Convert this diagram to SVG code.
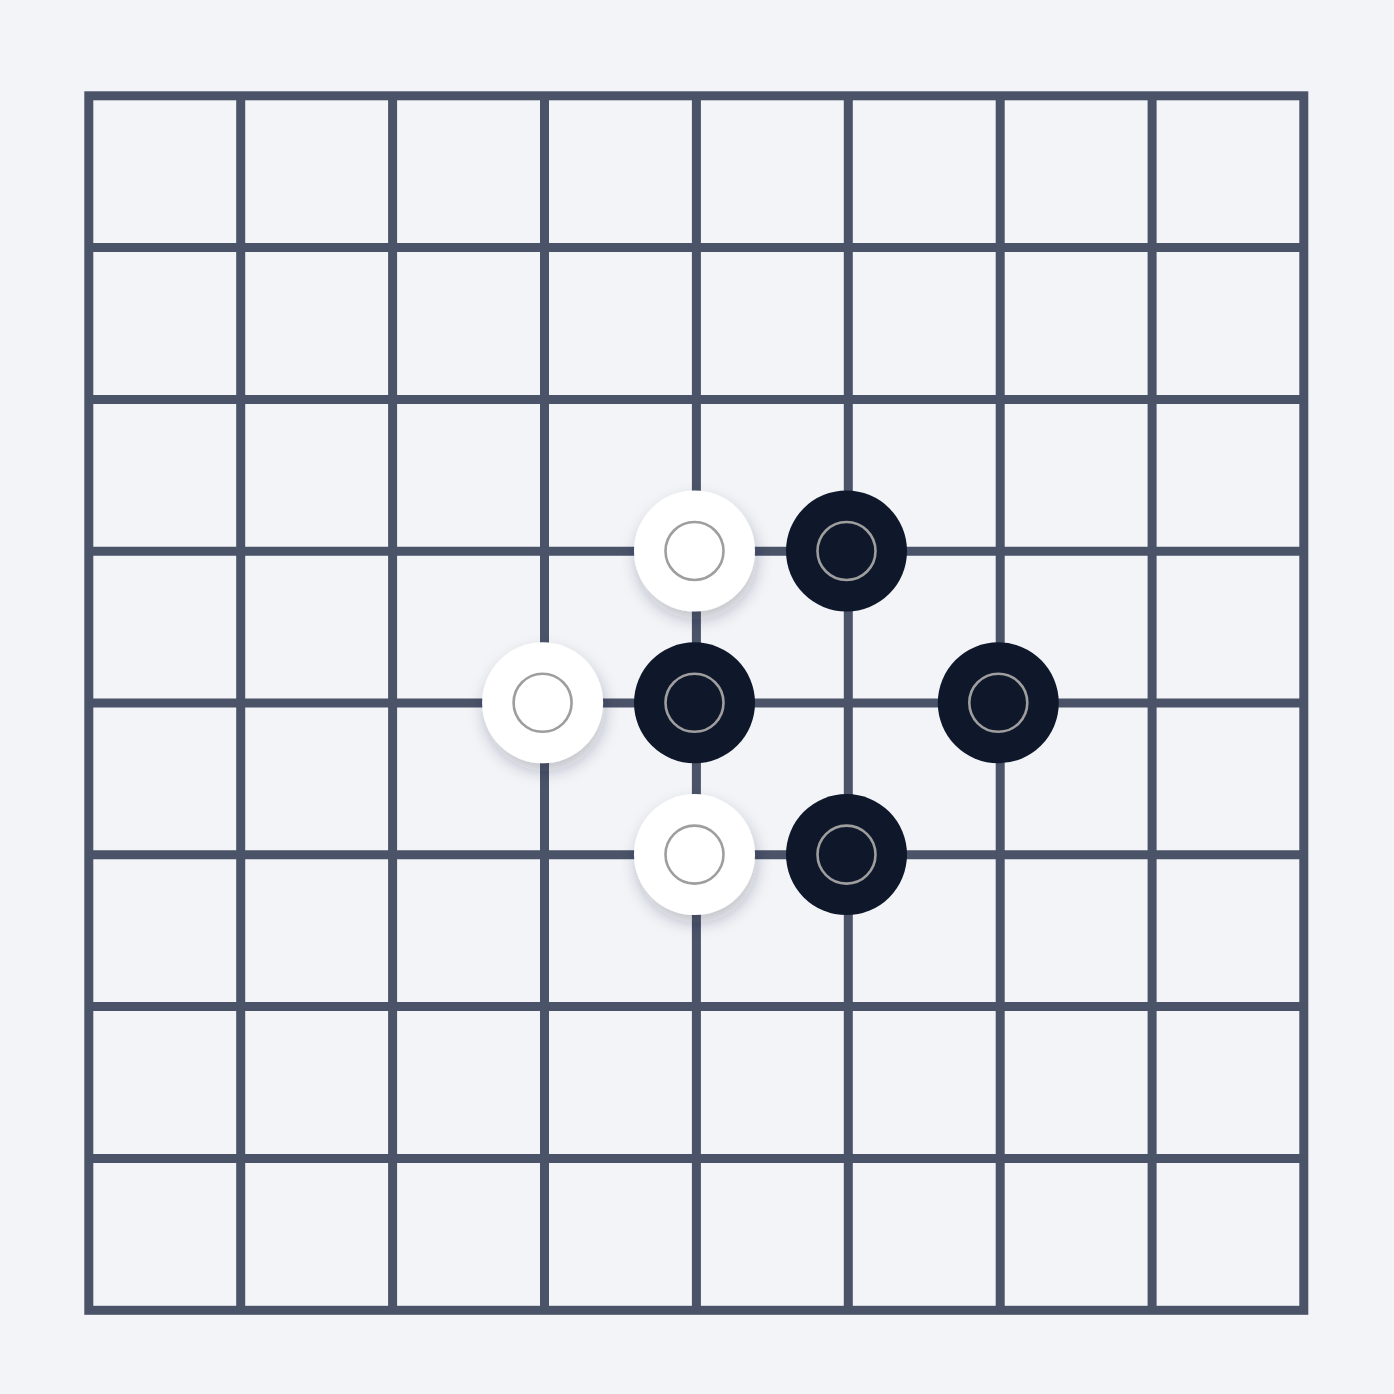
<svg xmlns="http://www.w3.org/2000/svg" width="1394" height="1394" viewBox="0 0 1394 1394">
  <defs>
    <filter id="shadow" x="-50%" y="-50%" width="200%" height="200%">
      <feDropShadow dx="2" dy="8" stdDeviation="8" flood-color="#1e293b" flood-opacity="0.24"/>
    </filter>
  </defs>
  <style>
    .grid { stroke: #4a5368; stroke-width: 9; fill: none; }
    .white { fill: #ffffff; filter: url(#shadow); }
    .black { fill: #0f172a; }
    .ring { fill: none; stroke: #9e9e9e; stroke-width: 2.6; }
  </style>
  <rect x="0" y="0" width="1394" height="1394" fill="#f2f4f7"/>
  <g id="board" class="grid">
    <rect x="88.8" y="95.8" width="1215" height="1214.5"/>
    <path d="M240.7 95.8V1310.3 M392.6 95.8V1310.3 M544.5 95.8V1310.3 M696.4 95.8V1310.3 M848.3 95.8V1310.3 M1000.2 95.8V1310.3 M1152.1 95.8V1310.3"/>
    <path d="M88.8 247.6H1303.8 M88.8 399.4H1303.8 M88.8 551.2H1303.8 M88.8 703H1303.8 M88.8 854.8H1303.8 M88.8 1006.6H1303.8 M88.8 1158.4H1303.8"/>
  </g>
  <g id="stone-w1"><circle class="white" cx="694.5" cy="551" r="60.5"/><circle class="ring" cx="694.5" cy="551" r="29"/></g>
  <g id="stone-b1"><circle class="black" cx="846.5" cy="551" r="60.5"/><circle class="ring" cx="846.5" cy="551" r="29"/></g>
  <g id="stone-w2"><circle class="white" cx="542.6" cy="702.8" r="60.5"/><circle class="ring" cx="542.6" cy="702.8" r="29"/></g>
  <g id="stone-b2"><circle class="black" cx="694.5" cy="702.8" r="60.5"/><circle class="ring" cx="694.5" cy="702.8" r="29"/></g>
  <g id="stone-b3"><circle class="black" cx="998.3" cy="702.8" r="60.5"/><circle class="ring" cx="998.3" cy="702.8" r="29"/></g>
  <g id="stone-w3"><circle class="white" cx="694.5" cy="854.6" r="60.5"/><circle class="ring" cx="694.5" cy="854.6" r="29"/></g>
  <g id="stone-b4"><circle class="black" cx="846.5" cy="854.6" r="60.5"/><circle class="ring" cx="846.5" cy="854.6" r="29"/></g>
</svg>
